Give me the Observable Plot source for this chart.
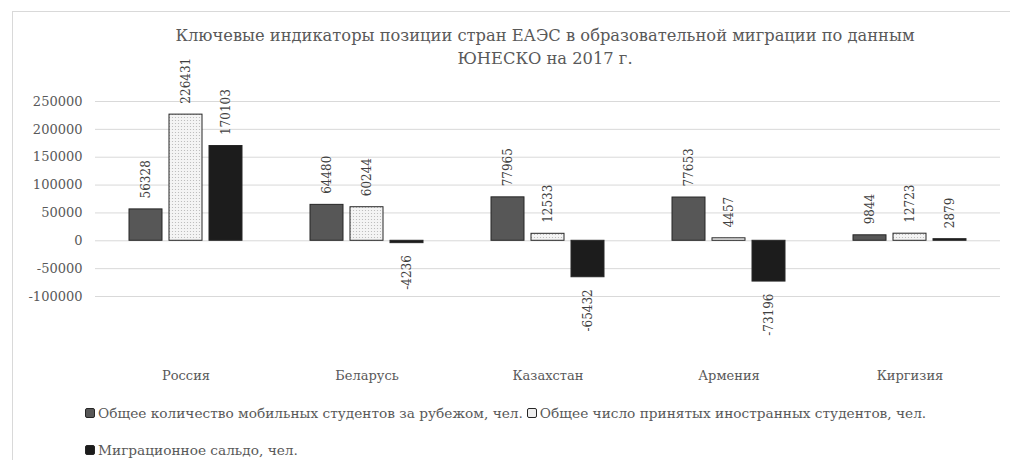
<!DOCTYPE html>
<html><head><meta charset="utf-8">
<script src="https://cdn.jsdelivr.net/npm/d3@7"></script>
<script src="https://cdn.jsdelivr.net/npm/@observablehq/plot@0.6"></script>
<style>
body{margin:0;background:#fff;}
#wrap{position:relative;width:1010px;height:460px;overflow:hidden;font-family:"DejaVu Serif",serif;color:#595959;}
#frame{position:absolute;left:12px;top:11px;width:1100px;height:500px;border-left:1px solid #d9d9d9;border-top:1px solid #d9d9d9;}
#title{position:absolute;left:0;width:1090px;top:24px;text-align:center;font-size:16.3px;line-height:23px;}
#chart{position:absolute;left:0;top:80px;}
.row{position:absolute;left:85px;font-size:13.7px;line-height:20px;white-space:nowrap;display:flex;align-items:center;}
.item{display:inline-flex;align-items:center;margin-right:4px;}
.sw{width:8px;height:8px;border:1px solid #262626;border-radius:2px;margin-right:3px;}
</style>
</head><body>
<div id="wrap">
  <div id="frame"></div>
  <div id="title"></div>
  <div id="chart"></div>
  <div class="row" id="leg1" style="top:403px"></div>
  <div class="row" id="leg2" style="top:440px"></div>
</div>
<script>
const titleLines = ["Ключевые индикаторы позиции стран ЕАЭС в образовательной миграции по данным", "ЮНЕСКО на 2017 г."];
const countries = ["Россия", "Беларусь", "Казахстан", "Армения", "Киргизия"];
const series = ["Общее количество мобильных студентов за рубежом, чел.", "Общее число принятых иностранных студентов, чел.", "Миграционное сальдо, чел."];
const outbound = [56328, 64480, 77965, 77653, 9844];
const inbound = [226431, 60244, 12533, 4457, 12723];
const balance = [170103, -4236, -65432, -73196, 2879];
const yTicks = [-100000, -50000, 0, 50000, 100000, 150000, 200000, 250000];
const fills = ["#575757", "url(#dots)", "#1c1c1c"];
const swatchFills = ["#575757", "#eeeeee", "#1c1c1c"];

const valuesBySeries = [outbound, inbound, balance];
const rows = countries.flatMap((c, i) => series.map((s, j) => ({country: c, series: s, value: valuesBySeries[j][i]})));

document.getElementById("title").innerHTML = titleLines.join("<br>");

const svg = Plot.plot({
  width: 1010, height: 310,
  marginLeft: 95, marginRight: 10, marginTop: 21, marginBottom: 94,
  style: {fontFamily: "DejaVu Serif", fontSize: "13px", color: "#595959", background: "transparent", overflow: "visible"},
  facet: {data: rows, x: "country"},
  fx: {domain: countries, padding: 0, label: null, tickSize: 0, tickPadding: 74},
  x: {domain: series, axis: null, paddingInner: 0.175, paddingOuter: 0.84},
  y: {domain: [-100000, 250000], ticks: yTicks, tickFormat: d => String(d), tickSize: 0, tickPadding: 13, label: null},
  color: {domain: series, range: fills},
  marks: [
    Plot.gridY(yTicks, {stroke: "#d9d9d9", strokeOpacity: 1}),
    Plot.barY(rows, {x: "series", y: "value", fill: "series", stroke: "#262626", strokeWidth: 1}),
    Plot.text(rows, {filter: d => d.value >= 0, x: "series", y: "value", text: d => String(d.value), rotate: -90, textAnchor: "start", dy: -11, fontSize: 12, fill: "#404040"}),
    Plot.text(rows, {filter: d => d.value < 0, x: "series", y: "value", text: d => String(d.value), rotate: -90, textAnchor: "end", dy: 12, fontSize: 12, fill: "#404040"})
  ]
});
const defs = d3.select(svg).insert("defs", ":first-child");
const pat = defs.append("pattern").attr("id", "dots").attr("width", 3).attr("height", 3).attr("patternUnits", "userSpaceOnUse");
pat.append("rect").attr("width", 3).attr("height", 3).attr("fill", "#f4f4f4");
pat.append("circle").attr("cx", 1.5).attr("cy", 1.5).attr("r", 0.6).attr("fill", "#b5b5b5");
document.getElementById("chart").appendChild(svg);

function legendItem(i) {
  const el = document.createElement("span");
  el.className = "item";
  const sw = document.createElement("span");
  sw.className = "sw";
  sw.style.background = swatchFills[i];
  el.appendChild(sw);
  el.appendChild(document.createTextNode(series[i]));
  return el;
}
document.getElementById("leg1").appendChild(legendItem(0));
document.getElementById("leg1").appendChild(legendItem(1));
document.getElementById("leg2").appendChild(legendItem(2));
</script>
</body></html>
